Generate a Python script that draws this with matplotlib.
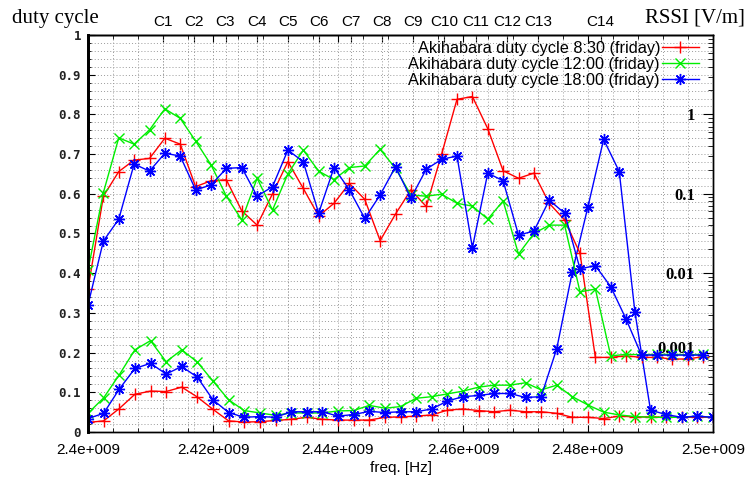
import numpy as np
import matplotlib
matplotlib.use('Agg')
import matplotlib.pyplot as plt
from matplotlib.ticker import MultipleLocator, FuncFormatter, LogLocator, NullFormatter

plt.rcParams['font.family'] = ['Liberation Sans', 'DejaVu Sans']

# sweep points [MHz]
duty_freq_mhz = [2400.0, 2402.5, 2405.0, 2407.5, 2410.0, 2412.5, 2415.0, 2417.5, 2420.0, 2422.5,
                 2425.0, 2427.5, 2430.0, 2432.5, 2435.0, 2437.5, 2440.0, 2442.5, 2445.0, 2447.5,
                 2450.0, 2452.5, 2455.0, 2457.5, 2460.0, 2462.5, 2465.0, 2467.5, 2470.0, 2472.5,
                 2475.0, 2477.5, 2480.0, 2482.5, 2485.0, 2487.5, 2490.0, 2492.5, 2495.0, 2497.5,
                 2500.0]
rssi_freq_mhz = [2400.00, 2402.46, 2404.92, 2407.38, 2409.84, 2412.30, 2414.76, 2417.22, 2419.68,
                 2422.14, 2424.60, 2427.06, 2429.52, 2431.98, 2434.44, 2436.90, 2439.36, 2441.82,
                 2444.28, 2446.74, 2449.20, 2451.66, 2454.12, 2456.58, 2459.04, 2461.50, 2463.96,
                 2466.42, 2468.88, 2471.34, 2473.80, 2476.26, 2478.72, 2481.18, 2483.64, 2486.10,
                 2488.56, 2491.02, 2493.48, 2495.94, 2498.40]

# duty cycle (left axis)
duty_0830 = [0.024, 0.028, 0.059, 0.095, 0.103, 0.102, 0.113, 0.088, 0.057, 0.028,
             0.025, 0.026, 0.029, 0.032, 0.037, 0.032, 0.030, 0.030, 0.030, 0.037,
             0.038, 0.040, 0.043, 0.055, 0.058, 0.054, 0.051, 0.055, 0.051, 0.051,
             0.047, 0.037, 0.037, 0.034, 0.040, 0.038, 0.038, 0.037, 0.037, 0.037,
             0.037]
duty_1200 = [0.047, 0.086, 0.144, 0.207, 0.230, 0.177, 0.207, 0.176, 0.128, 0.081,
             0.054, 0.048, 0.042, 0.048, 0.048, 0.048, 0.053, 0.054, 0.067, 0.060,
             0.064, 0.085, 0.089, 0.096, 0.103, 0.113, 0.118, 0.118, 0.124, 0.106,
             0.118, 0.089, 0.068, 0.050, 0.043, 0.039, 0.037, 0.037, 0.037, 0.040,
             0.037]
duty_1800 = [0.034, 0.047, 0.108, 0.160, 0.173, 0.146, 0.165, 0.138, 0.081, 0.049,
             0.037, 0.039, 0.037, 0.051, 0.051, 0.051, 0.040, 0.044, 0.052, 0.049,
             0.051, 0.051, 0.058, 0.078, 0.089, 0.092, 0.097, 0.097, 0.087, 0.089,
             0.210, 0.404, 0.568, 0.737, 0.656, 0.303, 0.055, 0.044, 0.037, 0.040,
             0.037]

# RSSI [V/m] (right axis, log)
rssi_0830 = [0.00631, 0.0933, 0.1905, 0.266, 0.279, 0.501, 0.422, 0.123, 0.146, 0.150,
             0.0610, 0.0403, 0.100, 0.254, 0.117, 0.0525, 0.0759, 0.135, 0.0851, 0.0257,
             0.0556, 0.112, 0.0692, 0.316, 1.549, 1.679, 0.661, 0.195, 0.157, 0.182,
             0.0759, 0.0468, 0.0178, 0.00087, 0.00087, 0.00091, 0.00087, 0.00087, 0.00083, 0.00083,
             0.00089]
rssi_1200 = [0.01096, 0.1035, 0.507, 0.422, 0.638, 1.175, 0.891, 0.462, 0.232, 0.0933,
             0.0468, 0.157, 0.0624, 0.178, 0.355, 0.193, 0.151, 0.214, 0.224, 0.363,
             0.209, 0.0966, 0.0933, 0.0989, 0.0759, 0.0700, 0.0479, 0.0813, 0.0174, 0.0316,
             0.0403, 0.0403, 0.00582, 0.00631, 0.00091, 0.00095, 0.00094, 0.00095, 0.00095, 0.00094,
             0.00095]
rssi_1800 = [0.00398, 0.0254, 0.0479, 0.237, 0.193, 0.324, 0.299, 0.112, 0.129, 0.209,
             0.214, 0.0933, 0.123, 0.355, 0.254, 0.0569, 0.214, 0.112, 0.0490, 0.0966,
             0.219, 0.0881, 0.204, 0.272, 0.299, 0.0209, 0.182, 0.146, 0.0302, 0.0339,
             0.0832, 0.0569, 0.01135, 0.01245, 0.00676, 0.00263, 0.00093, 0.00093, 0.00093, 0.00093,
             0.00093]

series_names = ['Akihabara duty cycle 8:30 (friday)',
                'Akihabara duty cycle 12:00 (friday)',
                'Akihabara duty cycle 18:00 (friday)']
series_colors = ['#ff0000', '#00ee00', '#0000ff']
series_markers = ['+', 'x', (8, 2, 0)]
series_msize = [8, 7, 8]

channel_mhz = [2412, 2417, 2422, 2427, 2432, 2437, 2442, 2447, 2452, 2457, 2462, 2467, 2472, 2482]
channel_labels = ['C1', 'C2', 'C3', 'C4', 'C5', 'C6', 'C7', 'C8', 'C9', 'C10', 'C11', 'C12', 'C13', 'C14']
freq_ticks_mhz = [2400, 2420, 2440, 2460, 2480, 2500]
freq_tick_labels = ['2.4e+009', '2.42e+009', '2.44e+009', '2.46e+009', '2.48e+009', '2.5e+009']
rssi_ticks = [0.001, 0.01, 0.1, 1]
rssi_tick_labels = ['0.001', '0.01', '0.1', '1']

grid_kw = dict(color='#9a9a9a', linestyle=(0, (1, 2.2)), linewidth=0.7)

fig = plt.figure(figsize=(7.5, 4.83), dpi=100)
ax = fig.add_axes([88 / 750, 1 - 432 / 483, 625 / 750, 397 / 483])
ax_r = ax.twinx()

duty_x = np.array(duty_freq_mhz) * 1e6
rssi_x = np.array(rssi_freq_mhz) * 1e6
duty_sets = [duty_0830, duty_1200, duty_1800]
rssi_sets = [rssi_0830, rssi_1200, rssi_1800]

handles = []
for i in range(3):
    h, = ax.plot(duty_x, duty_sets[i], color=series_colors[i], marker=series_markers[i],
                 markersize=series_msize[i], markeredgewidth=1.0, linewidth=1.0,
                 label=series_names[i])
    handles.append(h)
    ax_r.plot(rssi_x, rssi_sets[i], color=series_colors[i], marker=series_markers[i],
              markersize=series_msize[i], markeredgewidth=1.0, linewidth=1.0)

# x axis
ax.set_xlim(2.4e9, 2.5e9)
ax.set_xticks(np.array(freq_ticks_mhz) * 1e6, freq_tick_labels)
ax.xaxis.set_minor_locator(MultipleLocator(4e6))
ax.tick_params(axis='x', which='major', direction='in', length=5, top=True, labelsize=11, pad=8)
ax.tick_params(axis='x', which='minor', direction='in', length=3, top=True)

# left axis (duty cycle)
ax.set_ylim(0, 1)
ax.yaxis.set_major_locator(MultipleLocator(0.1))
ax.yaxis.set_minor_locator(MultipleLocator(0.02))
ax.yaxis.set_major_formatter(FuncFormatter(lambda v, p: f'{v:g}'))
ax.tick_params(axis='y', which='major', direction='in', length=5, pad=5)
ax.tick_params(axis='y', which='minor', direction='in', length=2.5)
for lbl in ax.get_yticklabels():
    lbl.set_fontfamily('DejaVu Sans Mono')
    lbl.set_fontweight('bold')
    lbl.set_fontsize(9)
    lbl.set_color('#222222')

ax.grid(which='both', **grid_kw)
for f in channel_mhz:
    ax.axvline(f * 1e6, zorder=0.5, **grid_kw)

# top axis (channels)
secax = ax.secondary_xaxis('top')
secax.set_xticks(np.array(channel_mhz) * 1e6, channel_labels)
secax.tick_params(direction='in', length=5, pad=4, labelsize=11)

# right axis (RSSI)
ax_r.set_yscale('log')
ax_r.set_ylim(1e-4, 10)
ax_r.set_yticks(rssi_ticks, rssi_tick_labels)
ax_r.yaxis.set_minor_locator(LogLocator(base=10, subs=np.arange(2, 10)))
ax_r.yaxis.set_minor_formatter(NullFormatter())
ax_r.tick_params(axis='y', which='major', direction='in', length=7, pad=-13)
ax_r.tick_params(axis='y', which='minor', direction='in', length=3.5)
for lbl in ax_r.get_yticklabels():
    lbl.set_horizontalalignment('right')
    lbl.set_fontfamily('Liberation Serif')
    lbl.set_fontweight('bold')
    lbl.set_fontsize(12)
    if lbl.get_text() == '0.001':
        lbl.set_verticalalignment('baseline')

for sp in ['top', 'right', 'bottom']:
    ax.spines[sp].set_linewidth(1.0)
    ax_r.spines[sp].set_linewidth(1.0)
ax.spines['left'].set_linewidth(2.0)
ax_r.spines['left'].set_linewidth(2.0)
secax.spines['top'].set_linewidth(1.0)

ax.set_xlabel('freq. [Hz]', fontsize=11, labelpad=3)
fig.text(12 / 750, 1 - 18 / 483, 'duty cycle', family='Liberation Serif', fontsize=15,
         ha='left', va='center')
fig.text(745 / 750, 1 - 18 / 483, 'RSSI [V/m]', family='Liberation Serif', fontsize=15,
         ha='right', va='center')

ax_r.legend(handles=handles, loc='upper right', bbox_to_anchor=(699 / 750, 1 - 41 / 483),
            bbox_transform=fig.transFigure, frameon=False, markerfirst=False, numpoints=1,
            fontsize=11.7, handlelength=2.3, handletextpad=0.1, labelspacing=0.05,
            borderpad=0, borderaxespad=0)

fig.savefig('out.png', dpi=100)
